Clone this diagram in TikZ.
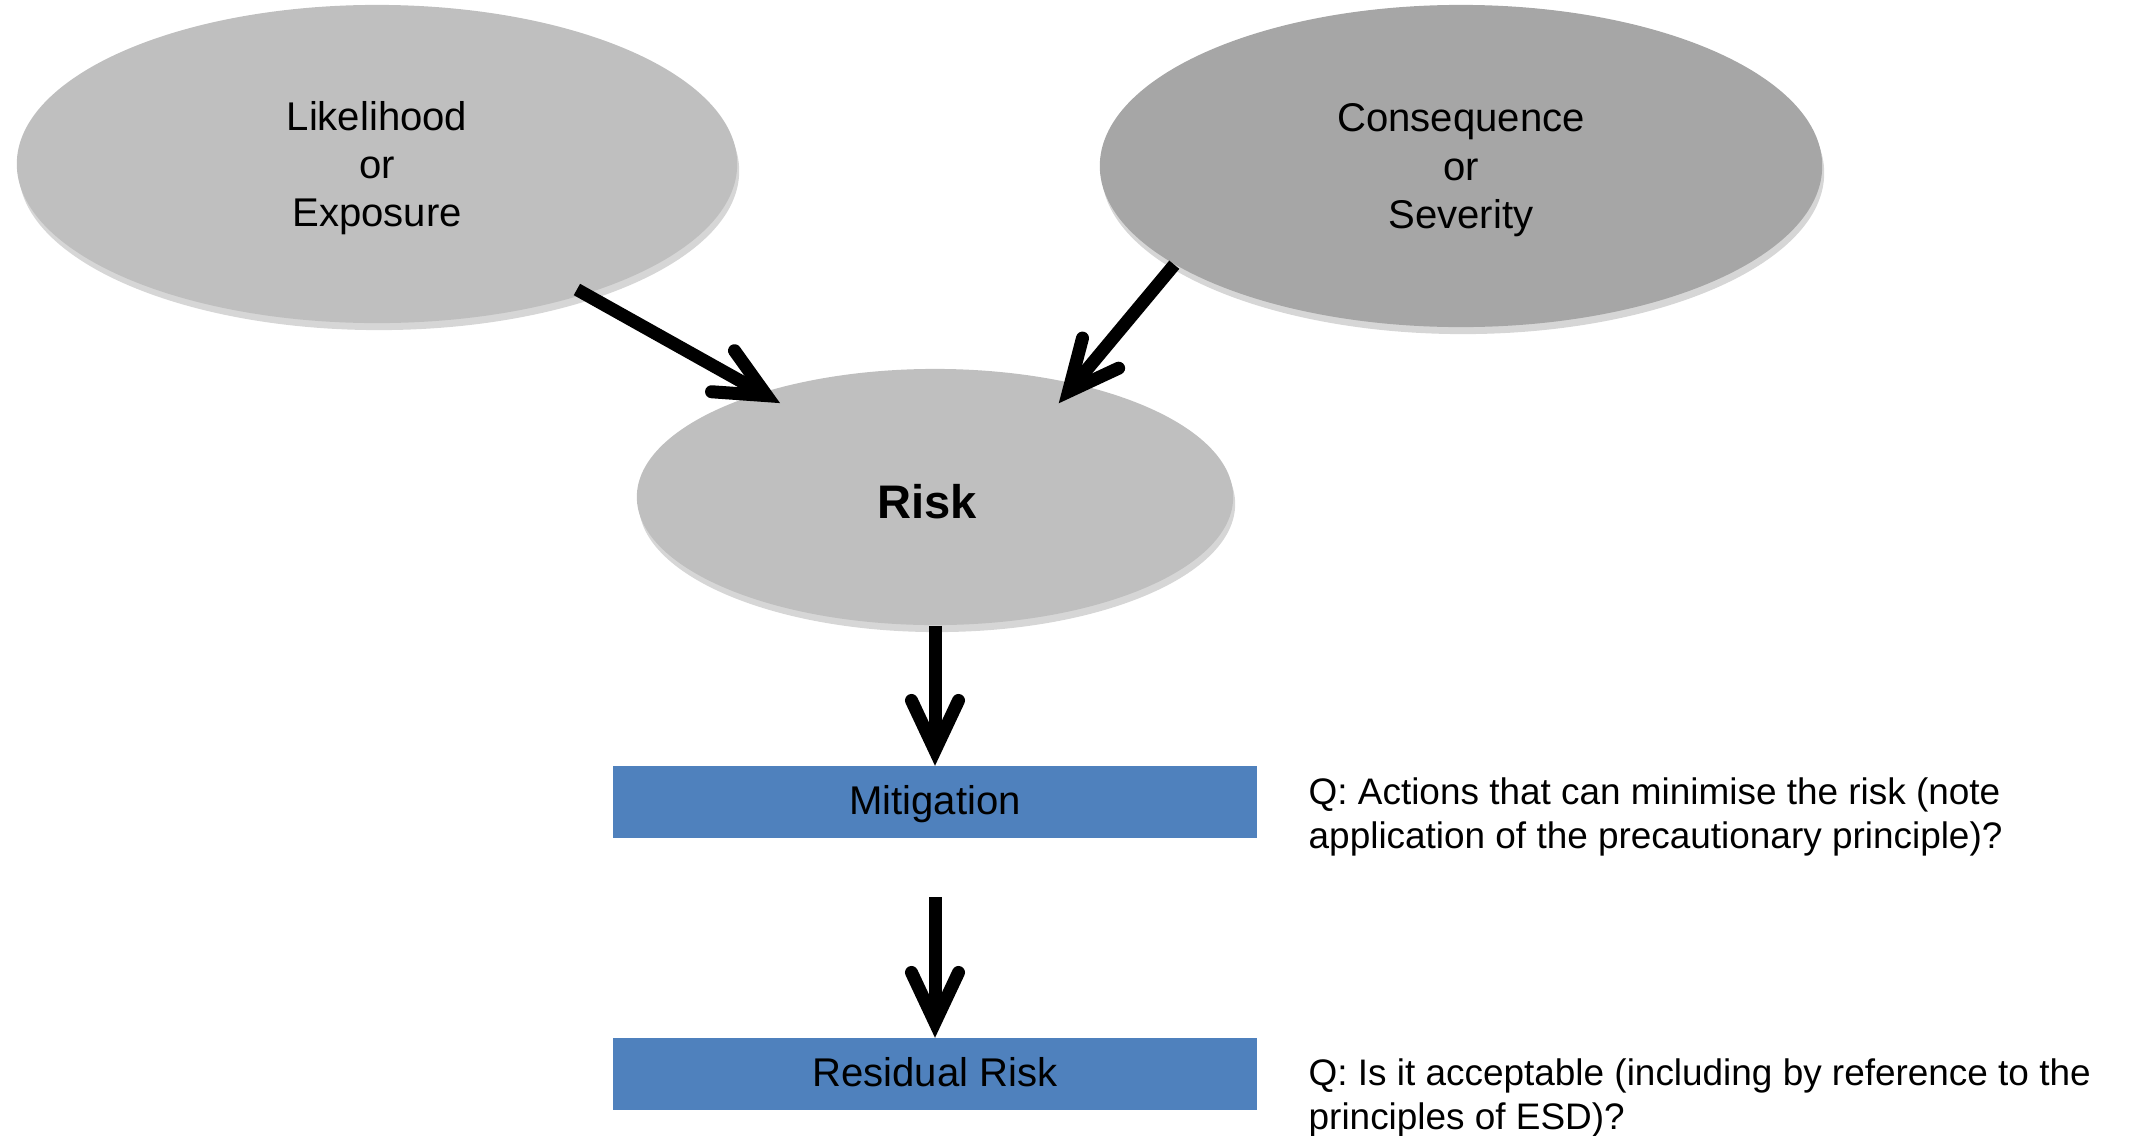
\documentclass[tikz,border=0pt]{standalone}
\usepackage{fontspec}
\setmainfont{Liberation Sans}
\usetikzlibrary{shapes.geometric, arrows.meta, shadows}
\definecolor{xamnhat}{HTML}{BFBFBF}
\definecolor{xamdam}{HTML}{A6A6A6}
\definecolor{xanhhop}{HTML}{4F81BD}

\begin{document}
\begin{tikzpicture}[x=0.01cm, y=-0.01cm,
	>={Straight Barb[length=0.5cm, width=0.47cm, line cap=round, line join=miter]},
	muiten/.style={->, line width=0.13cm},
	elip/.style={ellipse, inner sep=0pt, align=center, text depth=0pt,
		font=\fontsize{11.4}{13.7}\selectfont,
		drop shadow={shadow xshift=0.02cm, shadow yshift=-0.07cm, opacity=0.16, fill=black}},
	hop/.style={rectangle, fill=xanhhop, inner sep=0pt, minimum width=6.44cm,
		minimum height=0.71cm, text height=0.72em, text depth=0pt,
		font=\fontsize{11.4}{13.7}\selectfont},
	cauhoi/.style={anchor=west, inner sep=0pt, align=left,
		font=\fontsize{10.5}{12.4}\selectfont}]
	
	\useasboundingbox (0,0) rectangle (2129,1136);
	
	% --- Các hình elip ---
	\node[elip, fill=xamnhat, minimum width=7.2cm, minimum height=3.18cm] (lik) at (377,164) {Likelihood\\or\\Exposure};
	\node[elip, fill=xamdam, minimum width=7.22cm, minimum height=3.22cm] (cons) at (1461,166) {Consequence\\or\\Severity};
	\node[elip, fill=xamnhat, minimum width=5.96cm, minimum height=2.56cm, text height=12.5pt,
		font=\fontsize{13.4}{16}\selectfont\bfseries] (risk) at (935,497) {Risk\hspace{0.16cm}};
	
	% --- Các hộp màu xanh ---
	\node[hop] (mit) at (935,802) {Mitigation};
	\node[hop] (res) at (935,1074) {Residual Risk};
	
	% Câu hỏi bên phải
	\node[cauhoi] (q1) at (1308,817) {Q: Actions that can minimise the risk (note\\application of the precautionary principle)?};
	\node[cauhoi] (q2) at (1308,1098) {Q: Is it acceptable (including by reference to the\\principles of ESD)?};
	
	% Vẽ các mũi tên
	\draw[muiten, shorten <=-0.1cm, shorten >=-0.22cm] (lik.328) -- (risk.149);
	\draw[muiten, shorten >=-0.26cm] (cons.199) -- (risk.39);
	\draw[muiten] (risk) -- (mit);
	\draw[muiten, shorten <=0.59cm] (mit) -- (res);
\end{tikzpicture}
\end{document}
